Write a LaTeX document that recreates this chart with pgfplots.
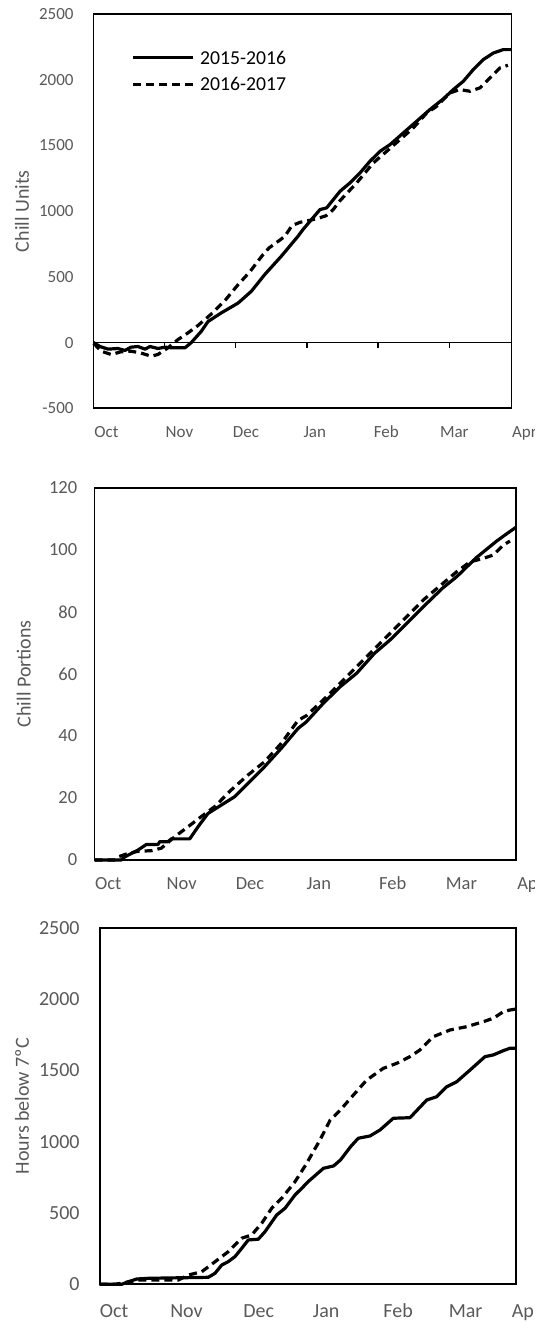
\documentclass[border=0pt]{standalone}
\usepackage{fontspec}
\setmainfont{Carlito}
\usepackage{pgfplots}
\pgfplotsset{compat=1.18}
\definecolor{tickgray}{HTML}{595959}
\pgfplotsset{
  panel/.style={
    scale only axis, anchor=south west, clip=false,
    xmin=0, xmax=5.879,
    axis line style={black, line width=0.85pt},
    major tick length=0pt,
    tick style={draw=none},
    xticklabel style={anchor=base, inner sep=0pt, text=tickgray},
    yticklabel style={anchor=east, inner sep=0pt, text=tickgray},
    label style={font=\fontsize{10}{12}\selectfont, text=tickgray},
  },
  s1/.style={black, line width=1.6pt, line join=round},
  s2/.style={black, line width=1.6pt, line join=round, dash pattern=on 4pt off 2.5pt},
}
\begin{document}
\begin{tikzpicture}
% ---------------- Panel 1: Chill Units ----------------
\begin{axis}[panel,
  at={(46.8pt,457.35pt)}, width=209pt, height=197.15pt,
  ymin=-500, ymax=2500,
  ytick={-500,0,500,1000,1500,2000,2500},
  yticklabels={-500,0,500,1000,1500,2000,2500},
  yticklabel style={font=\fontsize{8.5}{10}\selectfont, xshift=-9.85pt},
  xtick={0.181,1.207,2.143,3.111,4.117,5.074},
  xticklabels={Oct,Nov,Dec,Jan,Feb,Mar},
  xticklabel style={font=\fontsize{8.5}{10}\selectfont, yshift=-14.7pt},
  ylabel={Chill Units},
  ylabel style={at={(axis description cs:-0.1713,0.5)}, anchor=center},
  legend style={at={(axis description cs:0.0895,0.9138)}, anchor=north west,
    draw=none, fill=none, inner sep=0pt, row sep=0pt, column sep=0pt,
    font=\fontsize{9.85}{12}\selectfont,
    nodes={inner xsep=3pt, inner ysep=0pt, text height=8pt, text depth=5.3pt}},
  legend cell align=left,
  legend image code/.code={\draw[#1] (0pt,2pt) -- (29.8pt,2pt);},
]
\addplot[s1] coordinates {(0,0)(0.09,-30)(0.203,-50)(0.343,-45)(0.44,-60)(0.526,-35)(0.624,-30)(0.723,-50)(0.793,-30)(0.906,-45)(1.004,-35)(1.103,-40)(1.215,-40)(1.285,-40)(1.374,0)(1.515,86)(1.609,160)(1.796,226)(2.031,300)(2.218,390)(2.406,517)(2.64,657)(2.875,809)(2.945,860)(3.184,1012)(3.278,1025)(3.466,1151)(3.606,1215)(3.747,1291)(3.888,1380)(4.028,1455)(4.169,1506)(4.356,1595)(4.544,1684)(4.731,1773)(4.918,1854)(5.059,1925)(5.2,1988)(5.34,2077)(5.481,2153)(5.622,2203)(5.762,2229)(5.879,2229)};
\addlegendentry{2015-2016}
\addplot[s2] coordinates {(0,-5)(0.108,-66)(0.249,-91)(0.385,-70)(0.53,-66)(0.667,-80)(0.812,-104)(0.906,-90)(1.046,-40)(1.187,23)(1.328,74)(1.468,130)(1.651,215)(1.848,320)(2.031,440)(2.2,540)(2.369,660)(2.467,720)(2.608,775)(2.692,810)(2.79,890)(2.903,915)(3.043,930)(3.156,945)(3.269,965)(3.367,1010)(3.466,1080)(3.7,1215)(3.934,1367)(4.122,1455)(4.309,1544)(4.496,1633)(4.685,1747)(4.826,1798)(5.013,1900)(5.153,1925)(5.294,1912)(5.435,1938)(5.575,2014)(5.716,2090)(5.828,2110)};
\addlegendentry{2016-2017}
\node[anchor=base, inner sep=0pt, text=tickgray, font=\fontsize{8.5}{10}\selectfont, yshift=-14.7pt] at (axis cs:6.06,-500) {Apr};
\end{axis}
% zero line with month ticks
\begin{axis}[
  at={(46.8pt,457.35pt)}, anchor=south west, scale only axis, width=209pt, height=197.15pt,
  xmin=0, xmax=5.879, ymin=-500, ymax=2500,
  axis x line=middle, axis y line=none,
  x axis line style={-, black, line width=0.5pt},
  xtick={1,2,3,4,5}, xticklabels={},
  ytick=\empty,
  tick align=outside, major tick length=2.6pt,
  tick style={black, line width=0.6pt},
]
\end{axis}
% ---------------- Panel 2: Chill Portions ----------------
\begin{axis}[panel,
  at={(47.3pt,231.5pt)}, width=210.85pt, height=186.15pt,
  ymin=0, ymax=120,
  ytick={0,20,40,60,80,100,120},
  yticklabels={0,20,40,60,80,100,120},
  yticklabel style={font=\fontsize{9.25}{11}\selectfont, xshift=-8.5pt},
  xtick={0.191,1.214,2.167,3.126,4.157,5.114},
  xticklabels={Oct,Nov,Dec,Jan,Feb,Mar},
  xticklabel style={font=\fontsize{9.25}{11}\selectfont, yshift=-14.6pt},
  ylabel={Chill Portions},
  ylabel style={at={(axis description cs:-0.168,0.5)}, anchor=center},
]
\addplot[s1] coordinates {(0,0)(0.372,0)(0.42,1)(0.605,3.2)(0.721,5)(0.884,5)(0.908,5.9)(1.023,5.9)(1.069,6.8)(1.326,6.8)(1.442,10.7)(1.581,15)(1.766,17.7)(1.953,20.4)(2.139,24.7)(2.371,30.1)(2.603,36)(2.836,42.4)(2.951,44.5)(3.188,50.5)(3.427,55.9)(3.654,60.2)(3.901,66.6)(4.118,70.9)(4.375,76.8)(4.582,81.6)(4.85,87.6)(5.048,91.3)(5.324,97.5)(5.606,102.8)(5.767,105.5)(5.879,107.3)};
\addplot[s2] coordinates {(0,0)(0.28,0)(0.326,1)(0.466,2.1)(0.605,2.8)(0.79,3)(0.93,3.8)(1.117,7.5)(1.302,10.7)(1.488,14)(1.674,17.2)(1.906,22.6)(2.139,27.4)(2.371,31.7)(2.603,37.6)(2.836,45)(2.951,46.5)(3.188,51.6)(3.282,53.7)(3.654,62.3)(4.118,73)(4.582,83.8)(5.048,92.9)(5.234,96.1)(5.419,97.2)(5.558,98.3)(5.698,101.5)(5.791,102.8)};
\node[anchor=base, inner sep=0pt, text=tickgray, font=\fontsize{9.25}{11}\selectfont, yshift=-14.6pt] at (axis cs:6.08,0) {Apr};
\end{axis}
% ---------------- Panel 3: Hours below 7ºC ----------------
\begin{axis}[panel,
  at={(49.85pt,19.35pt)}, width=208.3pt, height=178.3pt,
  ymin=0, ymax=2500,
  ytick={0,500,1000,1500,2000,2500},
  yticklabels={0,500,1000,1500,2000,2500},
  yticklabel style={font=\fontsize{10}{12}\selectfont, xshift=-9.85pt},
  xtick={0.202,1.225,2.244,3.195,4.211,5.164},
  xticklabels={Oct,Nov,Dec,Jan,Feb,Mar},
  xticklabel style={font=\fontsize{10}{12}\selectfont, yshift=-16.8pt},
  ylabel={Hours below 7ºC},
  ylabel style={at={(axis description cs:-0.1865,0.5)}, anchor=center},
]
\addplot[s1] coordinates {(0,0)(0.31,0)(0.404,18)(0.522,37)(0.686,42)(1.533,49)(1.627,77)(1.722,135)(1.815,159)(1.909,194)(2.004,252)(2.097,311)(2.238,316)(2.333,369)(2.498,486)(2.615,533)(2.756,626)(2.873,684)(2.94,719)(3.157,813)(3.301,830)(3.397,871)(3.541,965)(3.649,1024)(3.815,1040)(3.956,1082)(4.143,1164)(4.379,1168)(4.615,1292)(4.756,1315)(4.897,1385)(5.038,1420)(5.226,1502)(5.437,1596)(5.555,1608)(5.696,1638)(5.79,1655)(5.879,1655)};
\addplot[s2] coordinates {(0,0)(0.216,0)(0.357,12)(0.545,30)(1.109,30)(1.25,65)(1.439,88)(1.627,158)(1.815,229)(2.004,323)(2.145,346)(2.286,428)(2.427,533)(2.568,603)(2.756,719)(2.911,840)(3.109,1012)(3.253,1152)(3.397,1222)(3.532,1300)(3.768,1432)(4.002,1514)(4.191,1549)(4.379,1596)(4.52,1643)(4.708,1736)(4.944,1783)(5.179,1806)(5.414,1841)(5.555,1865)(5.696,1911)(5.79,1923)(5.879,1930)};
\node[anchor=base, inner sep=0pt, text=tickgray, font=\fontsize{10}{12}\selectfont, yshift=-16.8pt] at (axis cs:6.02,0) {Apr};
\end{axis}
\pgfresetboundingbox
\useasboundingbox (0pt,0pt) rectangle (267.5pt,661.5pt);
\end{tikzpicture}
\end{document}
